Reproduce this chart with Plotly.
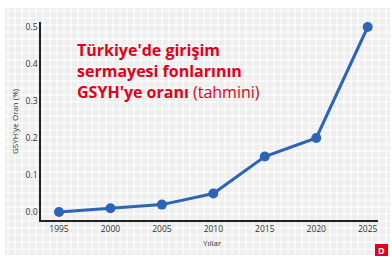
import plotly.graph_objects as go

years = [1995, 2000, 2005, 2010, 2015, 2020, 2025]
ratio = [0.0, 0.01, 0.02, 0.05, 0.15, 0.20, 0.50]
y_ticks = [0.0, 0.1, 0.2, 0.3, 0.4, 0.5]
y_tick_labels = ["0.0", "0.1", "0.2", "0.3", "0.4", "0.5"]
x_ticks = years

W, H = 392, 262
L, R, T, B = 41, 14, 22, 42
pw, ph = W - L - R, H - T - B

def px(x):
    return (x - L) / pw

def py(y):
    return (H - B - y) / ph

fig = go.Figure()
fig.add_trace(go.Scatter(
    x=years, y=ratio, mode="lines+markers",
    line=dict(color="#2c64b8", width=3),
    marker=dict(color="#2c64b8", size=10),
    hoverinfo="skip", showlegend=False, cliponaxis=False,
))

shapes = [dict(type="rect", xref="paper", yref="paper", x0=px(5), x1=px(390),
               y0=py(255), y1=py(8), fillcolor="#eeeeee", line=dict(width=0), layer="below")]
gx = 8
while gx < 390:
    shapes.append(dict(type="line", xref="paper", yref="paper", x0=px(gx), x1=px(gx),
                       y0=py(255), y1=py(8), line=dict(color="#ffffff", width=1), layer="below"))
    gx += 7
gy = 11
while gy < 255:
    shapes.append(dict(type="line", xref="paper", yref="paper", x0=px(5), x1=px(390),
                       y0=py(gy), y1=py(gy), line=dict(color="#ffffff", width=1), layer="below"))
    gy += 7
# D logo box
shapes.append(dict(type="rect", xref="paper", yref="paper", x0=px(375), x1=px(388),
                   y0=py(256), y1=py(244), fillcolor="#e2001a", line=dict(width=0)))

annotations = [
    dict(xref="paper", yref="paper", x=px(75), y=py(37), xanchor="left", yanchor="top",
         align="left", showarrow=False,
         text="<b>Türkiye'de girişim<br>sermayesi fonlarının<br>GSYH'ye oranı</b> (tahmini)",
         font=dict(family="Open Sans", size=16, color="#e2001a")),
    dict(xref="paper", yref="paper", x=px(212), y=py(242), xanchor="center", yanchor="middle",
         showarrow=False, text="Yıllar", font=dict(family="Open Sans", size=8, color="#333333")),
    dict(xref="paper", yref="paper", x=px(14), y=py(121), xanchor="center", yanchor="middle",
         showarrow=False, textangle=-90, text="GSYH'ye Oran (%)",
         font=dict(family="Open Sans", size=8, color="#333333")),
    dict(xref="paper", yref="paper", x=px(381.5), y=py(250), xanchor="center", yanchor="middle",
         showarrow=False, text="<b>D</b>", font=dict(family="Open Sans", size=9, color="#ffffff")),
]

fig.update_layout(
    width=W, height=H,
    margin=dict(l=L, r=R, t=T, b=B),
    paper_bgcolor="#ffffff",
    plot_bgcolor="rgba(0,0,0,0)",
    shapes=shapes,
    annotations=annotations,
    font=dict(family="Open Sans", size=9, color="#333333"),
    xaxis=dict(range=[1993.25, 2026.0], tickvals=x_ticks, showgrid=False, zeroline=False,
               showline=True, linecolor="#222222", linewidth=1.5, ticks="",
               tickfont=dict(size=8.5, color="#333333")),
    yaxis=dict(range=[-0.0216, 0.5135], tickvals=y_ticks, ticktext=y_tick_labels,
               showgrid=False, zeroline=False, showline=True, linecolor="#222222",
               linewidth=1.5, ticks="", tickfont=dict(size=8.5, color="#333333")),
)

fig.write_html("out.html")
